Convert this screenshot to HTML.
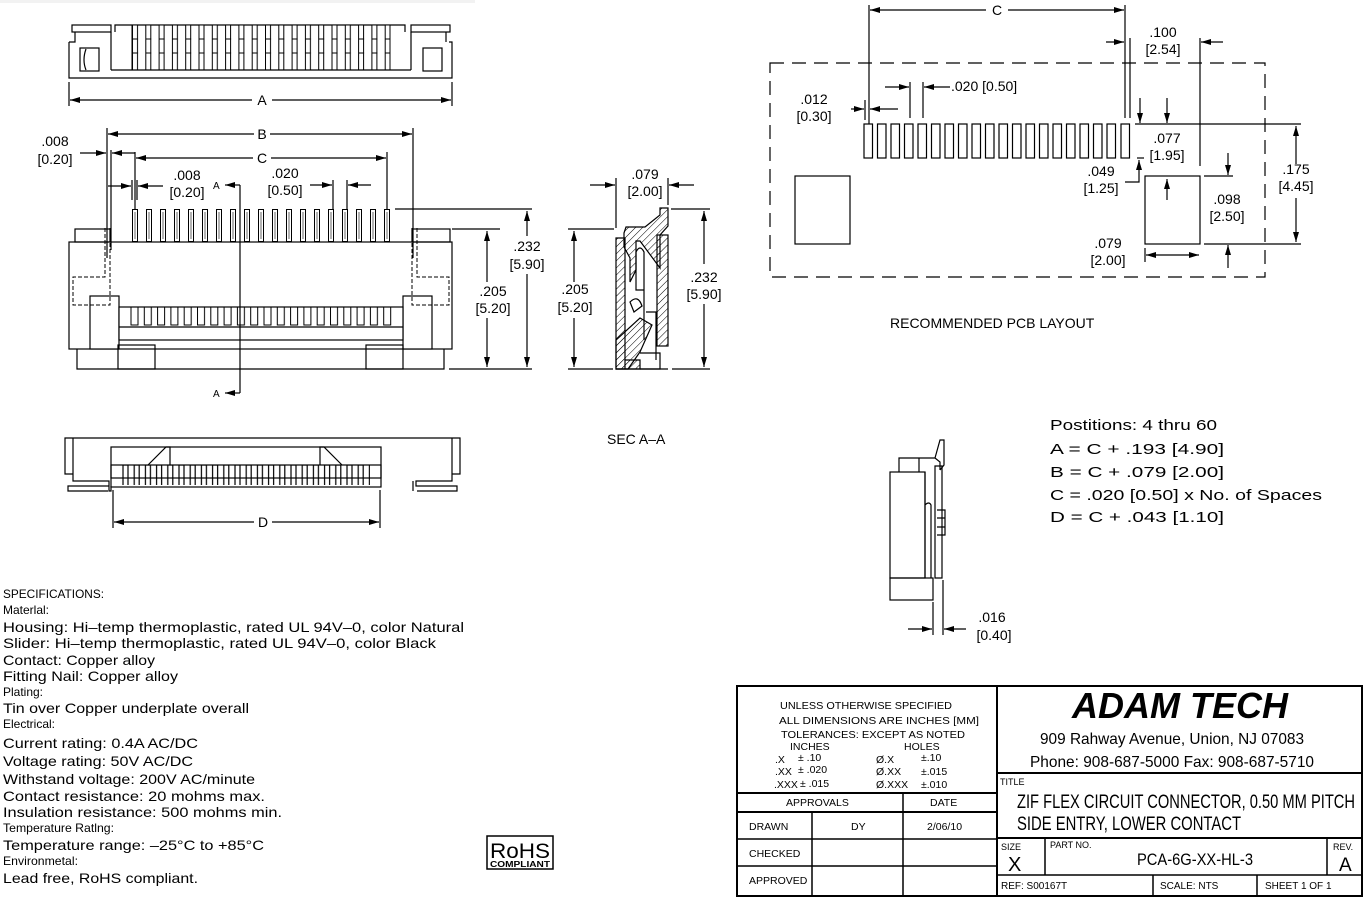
<!DOCTYPE html>
<html><head><meta charset="utf-8"><style>
body{margin:0;background:#fff}
svg{display:block}
text{font-family:"Liberation Sans",sans-serif;fill:#000}
.s{stroke:#000;stroke-width:1.2;fill:none}
.f{stroke:#000;stroke-width:1.2;fill:#fff}
.t{font-size:14px}
.sm{font-size:12px}
</style></head><body>
<svg width="1368" height="900" viewBox="0 0 1368 900" xmlns="http://www.w3.org/2000/svg">
<defs>
<marker id="ar" viewBox="0 0 10 6" refX="10" refY="3" markerWidth="10" markerHeight="6" orient="auto-start-reverse" markerUnits="userSpaceOnUse"><path d="M0,0L10,3L0,6z" fill="#000"/></marker>
<pattern id="pinsTop" x="132" y="25" width="13.3" height="45" patternUnits="userSpaceOnUse"><rect x="0.5" y="0" width="5" height="45" fill="#fff" stroke="#000" stroke-width="1"/><line x1="0" y1="14" x2="6" y2="14" stroke="#000"/><line x1="0" y1="28" x2="6" y2="28" stroke="#000"/></pattern>
<pattern id="pins" x="132" y="209" width="14" height="40" patternUnits="userSpaceOnUse"><rect x="0.5" y="0.5" width="5" height="32" fill="#fff" stroke="#000" stroke-width="1"/><line x1="3" y1="3" x2="3" y2="30" stroke="#000" stroke-width="0.6"/></pattern>
<pattern id="teeth" x="130" y="307" width="13.3" height="40" patternUnits="userSpaceOnUse"><path d="M1,0V18H8V0" fill="none" stroke="#000" stroke-width="1"/></pattern>
<pattern id="bteeth" x="122" y="465" width="11.2" height="40" patternUnits="userSpaceOnUse"><rect x="1" y="0" width="5" height="40" fill="none" stroke="#000" stroke-width="1.2"/></pattern>
<pattern id="hatch" width="5" height="5" patternUnits="userSpaceOnUse" patternTransform="rotate(45)"><line x1="0" y1="0" x2="0" y2="5" stroke="#000" stroke-width="1"/></pattern>
</defs>

<!-- TOP VIEW -->
<rect x="0" y="0" width="475" height="3" fill="#f2f2f2"/>
<rect class="f" x="72" y="25" width="39" height="7"/>
<rect class="f" x="411" y="25" width="39" height="7"/>
<path class="s" d="M69,42V78H452V42H449M69,42H75V32M111,32V70M115,32V25H405V32M411,32V70M446,32V42"/>
<rect class="f" x="80" y="48" width="19" height="23"/>
<path class="s" d="M86,49q-4,11 0,21M436,49q4,11 0,21"/>
<rect class="f" x="423" y="48" width="19" height="23"/>
<rect x="132" y="25" width="258" height="45" fill="url(#pinsTop)" stroke="#000" stroke-width="1"/>
<line class="s" x1="111" y1="70" x2="411" y2="70"/>
<line class="s" x1="69" y1="82" x2="69" y2="106"/><line class="s" x1="452" y1="82" x2="452" y2="106"/>
<line class="s" x1="70" y1="100" x2="252" y2="100" marker-start="url(#ar)"/>
<line class="s" x1="272" y1="100" x2="451" y2="100" marker-end="url(#ar)"/>
<text class="t" x="262" y="105" text-anchor="middle">A</text>

<!-- FRONT VIEW -->
<rect class="f" x="75" y="229" width="35" height="13"/>
<rect class="f" x="412" y="229" width="38" height="13"/>
<rect x="132" y="209" width="260" height="33" fill="url(#pins)"/>
<rect class="s" x="69" y="242" width="383" height="107"/>
<path class="s" d="M77,349V369H444V349"/>
<rect class="f" x="90" y="296" width="29" height="53"/>
<rect class="f" x="403" y="296" width="29" height="53"/>
<rect class="f" x="119" y="307" width="284" height="33"/>
<rect x="130" y="307" width="263" height="20" fill="url(#teeth)"/>
<line class="s" x1="119" y1="327" x2="403" y2="327"/>
<rect class="s" x="118" y="345" width="37" height="24"/>
<rect class="s" x="366" y="345" width="37" height="24"/>
<path d="M105,228V277H73V305H110V228M417,228V277H449V305H412V228" fill="none" stroke="#000" stroke-width="1" stroke-dasharray="4,2"/>
<line class="s" x1="240" y1="185" x2="240" y2="393"/>
<line class="s" x1="240" y1="185" x2="225" y2="185" marker-end="url(#ar)"/>
<line class="s" x1="240" y1="393" x2="225" y2="393" marker-end="url(#ar)"/>
<text x="213" y="189" font-size="10">A</text>
<text x="213" y="397" font-size="10">A</text>
<line class="s" x1="107" y1="128" x2="107" y2="258"/><line class="s" x1="111" y1="150" x2="111" y2="250"/>
<line class="s" x1="413" y1="128" x2="413" y2="258"/>
<line class="s" x1="108" y1="134" x2="254" y2="134" marker-start="url(#ar)"/>
<line class="s" x1="270" y1="134" x2="412" y2="134" marker-end="url(#ar)"/>
<text class="t" x="262" y="139" text-anchor="middle">B</text>
<line class="s" x1="135" y1="152" x2="135" y2="209"/><line class="s" x1="387" y1="152" x2="387" y2="209"/>
<line class="s" x1="136" y1="158" x2="253" y2="158" marker-start="url(#ar)"/>
<line class="s" x1="271" y1="158" x2="386" y2="158" marker-end="url(#ar)"/>
<text class="t" x="262" y="163" text-anchor="middle">C</text>
<line class="s" x1="80" y1="153" x2="106" y2="153" marker-end="url(#ar)"/>
<line class="s" x1="135" y1="153" x2="112" y2="153" marker-end="url(#ar)"/>
<text class="t" x="55" y="146" text-anchor="middle">.008</text><text class="t" x="55" y="164" text-anchor="middle">[0.20]</text>
<line class="s" x1="132" y1="180" x2="132" y2="200"/><line class="s" x1="137" y1="180" x2="137" y2="200"/>
<line class="s" x1="108" y1="186" x2="131" y2="186" marker-end="url(#ar)"/>
<line class="s" x1="163" y1="186" x2="138" y2="186" marker-end="url(#ar)"/>
<text class="t" x="187" y="180" text-anchor="middle">.008</text><text class="t" x="187" y="197" text-anchor="middle">[0.20]</text>
<line class="s" x1="333" y1="180" x2="333" y2="209"/><line class="s" x1="347" y1="180" x2="347" y2="209"/>
<line class="s" x1="310" y1="185" x2="332" y2="185" marker-end="url(#ar)"/>
<line class="s" x1="371" y1="185" x2="348" y2="185" marker-end="url(#ar)"/>
<text class="t" x="285" y="178" text-anchor="middle">.020</text><text class="t" x="285" y="195" text-anchor="middle">[0.50]</text>
<line class="s" x1="395" y1="209" x2="532" y2="209"/>
<line class="s" x1="452" y1="229" x2="500" y2="229"/>
<line class="s" x1="449" y1="369" x2="532" y2="369"/>
<line class="s" x1="487" y1="231" x2="487" y2="282" marker-start="url(#ar)"/>
<line class="s" x1="487" y1="318" x2="487" y2="367" marker-end="url(#ar)"/>
<text class="t" x="493" y="296" text-anchor="middle">.205</text><text class="t" x="493" y="313" text-anchor="middle">[5.20]</text>
<line class="s" x1="527" y1="211" x2="527" y2="236" marker-start="url(#ar)"/>
<line class="s" x1="527" y1="274" x2="527" y2="367" marker-end="url(#ar)"/>
<text class="t" x="527" y="251" text-anchor="middle">.232</text><text class="t" x="527" y="269" text-anchor="middle">[5.90]</text>

<!-- SECTION A-A -->
<path d="M616,369V238H625V360H640L640,369Z" fill="url(#hatch)" stroke="#000" stroke-width="1.2"/>
<path d="M624,233L626,227H645L660,215V208H668V226L660,235V268L640,241H636V270L630,282V258L624,247Z" fill="url(#hatch)" stroke="#000" stroke-width="1.2"/>
<rect x="657" y="235" width="11" height="111" fill="url(#hatch)" stroke="#000" stroke-width="1.2"/>
<path d="M616,340L640,318L652,325L640,352L628,369H616Z" fill="url(#hatch)" stroke="#000" stroke-width="1.2"/>
<path class="s" d="M636,252q4,-8 8,0V290H636ZM644,290V340M646,312H656V360M630,302q8,-8 12,4l-8,6ZM640,353H660V369H640M625,360V369"/>
<line class="s" x1="616" y1="369" x2="668" y2="369"/>
<line class="s" x1="616" y1="178" x2="616" y2="228"/>
<line class="s" x1="668" y1="178" x2="668" y2="205"/>
<line class="s" x1="590" y1="185" x2="615" y2="185" marker-end="url(#ar)"/>
<line class="s" x1="694" y1="185" x2="669" y2="185" marker-end="url(#ar)"/>
<text class="t" x="645" y="179" text-anchor="middle">.079</text><text class="t" x="645" y="196" text-anchor="middle">[2.00]</text>
<line class="s" x1="568" y1="229" x2="614" y2="229"/>
<line class="s" x1="568" y1="369" x2="613" y2="369"/>
<line class="s" x1="671" y1="209" x2="710" y2="209"/>
<line class="s" x1="672" y1="369" x2="710" y2="369"/>
<line class="s" x1="574" y1="231" x2="574" y2="282" marker-start="url(#ar)"/>
<line class="s" x1="574" y1="318" x2="574" y2="367" marker-end="url(#ar)"/>
<text class="t" x="575" y="294" text-anchor="middle">.205</text><text class="t" x="575" y="312" text-anchor="middle">[5.20]</text>
<line class="s" x1="704" y1="211" x2="704" y2="264" marker-start="url(#ar)"/>
<line class="s" x1="704" y1="304" x2="704" y2="367" marker-end="url(#ar)"/>
<text class="t" x="704" y="282" text-anchor="middle">.232</text><text class="t" x="704" y="299" text-anchor="middle">[5.90]</text>
<text class="t" x="607" y="444">SEC A–A</text>

<!-- BOTTOM VIEW -->
<path class="s" d="M65,438V474H73V438ZM452,438V474H460V438ZM73,438H452M73,474V481H109V486H68V491H108M452,474V481H416V486H457V491H417M109,481V491H111V486M413,481V491"/>
<rect class="f" x="111" y="447" width="270" height="40"/>
<rect class="s" x="111" y="465" width="270" height="13"/>
<rect x="122" y="465" width="248" height="20" fill="url(#bteeth)"/>
<path class="s" d="M148,465L166,447H170V465M342,465L324,447H320V465"/>
<line class="s" x1="113" y1="490" x2="113" y2="528"/><line class="s" x1="380" y1="490" x2="380" y2="528"/>
<line class="s" x1="114" y1="522" x2="254" y2="522" marker-start="url(#ar)"/>
<line class="s" x1="272" y1="522" x2="379" y2="522" marker-end="url(#ar)"/>
<text class="t" x="263" y="527" text-anchor="middle">D</text>

<!-- PCB LAYOUT -->
<rect x="770" y="63" width="495" height="214" fill="none" stroke="#000" stroke-width="1.2" stroke-dasharray="14,8"/>
<g class="f">
<rect x="864" y="124" width="8.5" height="34"/><rect x="877.5" y="124" width="8.5" height="34"/><rect x="891" y="124" width="8.5" height="34"/><rect x="904.5" y="124" width="8.5" height="34"/><rect x="918" y="124" width="8.5" height="34"/>
<rect x="931.5" y="124" width="8.5" height="34"/><rect x="945" y="124" width="8.5" height="34"/><rect x="958.5" y="124" width="8.5" height="34"/><rect x="972" y="124" width="8.5" height="34"/><rect x="985.5" y="124" width="8.5" height="34"/>
<rect x="999" y="124" width="8.5" height="34"/><rect x="1012.5" y="124" width="8.5" height="34"/><rect x="1026" y="124" width="8.5" height="34"/><rect x="1039.5" y="124" width="8.5" height="34"/><rect x="1053" y="124" width="8.5" height="34"/>
<rect x="1066.5" y="124" width="8.5" height="34"/><rect x="1080" y="124" width="8.5" height="34"/><rect x="1093.5" y="124" width="8.5" height="34"/><rect x="1107" y="124" width="8.5" height="34"/><rect x="1121" y="124" width="8.5" height="34"/>
</g>
<rect class="f" x="795" y="176" width="55" height="68"/>
<rect class="f" x="1145" y="176" width="55" height="68"/>
<line class="s" x1="869" y1="5" x2="869" y2="124"/><line class="s" x1="1125" y1="5" x2="1125" y2="118"/><line class="s" x1="1130" y1="38" x2="1130" y2="118"/>
<line class="s" x1="870" y1="10" x2="986" y2="10" marker-start="url(#ar)"/>
<line class="s" x1="1008" y1="10" x2="1124" y2="10" marker-end="url(#ar)"/>
<text class="t" x="997" y="15" text-anchor="middle">C</text>
<line class="s" x1="1200" y1="38" x2="1200" y2="166"/>
<line class="s" x1="1106" y1="42" x2="1124" y2="42" marker-end="url(#ar)"/>
<line class="s" x1="1223" y1="42" x2="1201" y2="42" marker-end="url(#ar)"/>
<text class="t" x="1163" y="37" text-anchor="middle">.100</text><text class="t" x="1163" y="54" text-anchor="middle">[2.54]</text>
<line class="s" x1="910" y1="82" x2="910" y2="118"/><line class="s" x1="923" y1="82" x2="923" y2="118"/>
<line class="s" x1="885" y1="87" x2="909" y2="87" marker-end="url(#ar)"/>
<line class="s" x1="950" y1="87" x2="924" y2="87" marker-end="url(#ar)"/>
<text class="t" x="951" y="91">.020  [0.50]</text>
<line class="s" x1="851" y1="109" x2="864" y2="109" marker-end="url(#ar)"/>
<line class="s" x1="898" y1="109" x2="870" y2="109" marker-end="url(#ar)"/>
<line class="s" x1="865" y1="100" x2="865" y2="120"/>
<text class="t" x="814" y="104" text-anchor="middle">.012</text><text class="t" x="814" y="121" text-anchor="middle">[0.30]</text>
<line class="s" x1="1135" y1="124" x2="1301" y2="124"/>
<line class="s" x1="1140" y1="98" x2="1140" y2="123" marker-end="url(#ar)"/>
<line class="s" x1="1167" y1="98" x2="1167" y2="123" marker-end="url(#ar)"/>
<text class="t" x="1167" y="143" text-anchor="middle">.077</text><text class="t" x="1167" y="160" text-anchor="middle">[1.95]</text>
<line class="s" x1="1137" y1="158" x2="1144" y2="158"/>
<path class="s" d="M1125,182H1139V160" marker-end="url(#ar)"/>
<text class="t" x="1101" y="176" text-anchor="middle">.049</text><text class="t" x="1101" y="193" text-anchor="middle">[1.25]</text>
<line class="s" x1="1167" y1="200" x2="1167" y2="179" marker-end="url(#ar)"/>
<line class="s" x1="1204" y1="176" x2="1233" y2="176"/>
<line class="s" x1="1204" y1="244" x2="1301" y2="244"/>
<line class="s" x1="1228" y1="153" x2="1228" y2="175" marker-end="url(#ar)"/>
<line class="s" x1="1228" y1="268" x2="1228" y2="245" marker-end="url(#ar)"/>
<text class="t" x="1227" y="204" text-anchor="middle">.098</text><text class="t" x="1227" y="221" text-anchor="middle">[2.50]</text>
<line class="s" x1="1296" y1="126" x2="1296" y2="164" marker-start="url(#ar)"/>
<line class="s" x1="1296" y1="198" x2="1296" y2="242" marker-end="url(#ar)"/>
<text class="t" x="1296" y="174" text-anchor="middle">.175</text><text class="t" x="1296" y="191" text-anchor="middle">[4.45]</text>
<line class="s" x1="1145" y1="248" x2="1145" y2="262"/>
<line class="s" x1="1172" y1="255" x2="1146" y2="255" marker-end="url(#ar)"/>
<line class="s" x1="1172" y1="255" x2="1199" y2="255" marker-end="url(#ar)"/>
<text class="t" x="1108" y="248" text-anchor="middle">.079</text><text class="t" x="1108" y="265" text-anchor="middle">[2.00]</text>
<text class="t" x="890" y="328">RECOMMENDED  PCB  LAYOUT</text>

<!-- SMALL SIDE VIEW -->
<path class="s" d="M899,472V458H919V472M919,458H935L940,462V470M935,458L940,440L944,440V465L940,470"/>
<rect class="s" x="890" y="472" width="35" height="106"/>
<rect class="s" x="890" y="578" width="43" height="22"/>
<path class="s" d="M925,472V578M925,505q4,-4 6,0V578M935,466V578H942V466ZM937,510H945V535H937M937,518H945M937,527H945"/>
<line class="s" x1="933" y1="602" x2="933" y2="635"/><line class="s" x1="943" y1="580" x2="943" y2="635"/>
<line class="s" x1="908" y1="629" x2="932" y2="629" marker-end="url(#ar)"/>
<line class="s" x1="966" y1="629" x2="944" y2="629" marker-end="url(#ar)"/>
<text class="t" x="992" y="622" text-anchor="middle">.016</text><text class="t" x="994" y="640" text-anchor="middle">[0.40]</text>

<g font-size="15">
<text x="1050" y="430" textLength="167" lengthAdjust="spacingAndGlyphs">Postitions:  4  thru  60</text>
<text x="1050" y="454" textLength="174" lengthAdjust="spacingAndGlyphs">A  =  C  +  .193  [4.90]</text>
<text x="1050" y="477" textLength="174" lengthAdjust="spacingAndGlyphs">B  =  C  +  .079  [2.00]</text>
<text x="1050" y="500" textLength="272" lengthAdjust="spacingAndGlyphs">C  =  .020  [0.50]  x  No.  of  Spaces</text>
<text x="1050" y="522" textLength="174" lengthAdjust="spacingAndGlyphs">D  =  C  +  .043  [1.10]</text>
</g>

<!-- SPECS -->
<g>
<text class="sm" x="3" y="598" textLength="101" lengthAdjust="spacingAndGlyphs">SPECIFICATIONS:</text>
<text class="sm" x="3" y="614" textLength="46" lengthAdjust="spacingAndGlyphs">Materlal:</text>
<text class="t" x="3" y="632" textLength="461" lengthAdjust="spacingAndGlyphs">Housing:  Hi–temp  thermoplastic,  rated  UL  94V–0,  color  Natural</text>
<text class="t" x="3" y="648" textLength="433" lengthAdjust="spacingAndGlyphs">Slider:  Hi–temp  thermoplastic,  rated  UL  94V–0,  color  Black</text>
<text class="t" x="3" y="665" textLength="152" lengthAdjust="spacingAndGlyphs">Contact:  Copper  alloy</text>
<text class="t" x="3" y="681" textLength="175" lengthAdjust="spacingAndGlyphs">Fitting  Nail:  Copper  alloy</text>
<text class="sm" x="3" y="696" textLength="40" lengthAdjust="spacingAndGlyphs">Plating:</text>
<text class="t" x="3" y="713" textLength="246" lengthAdjust="spacingAndGlyphs">Tin  over  Copper  underplate  overall</text>
<text class="sm" x="3" y="728" textLength="52" lengthAdjust="spacingAndGlyphs">Electrical:</text>
<text class="t" x="3" y="748" textLength="195" lengthAdjust="spacingAndGlyphs">Current  rating:  0.4A  AC/DC</text>
<text class="t" x="3" y="766" textLength="190" lengthAdjust="spacingAndGlyphs">Voltage  rating:  50V  AC/DC</text>
<text class="t" x="3" y="784" textLength="252" lengthAdjust="spacingAndGlyphs">Withstand  voltage:  200V  AC/minute</text>
<text class="t" x="3" y="801" textLength="262" lengthAdjust="spacingAndGlyphs">Contact  resistance:  20  mohms  max.</text>
<text class="t" x="3" y="817" textLength="279" lengthAdjust="spacingAndGlyphs">Insulation  resistance:  500  mohms  min.</text>
<text class="sm" x="3" y="832" textLength="111" lengthAdjust="spacingAndGlyphs">Temperature Ratlng:</text>
<text class="t" x="3" y="850" textLength="261" lengthAdjust="spacingAndGlyphs">Temperature  range:  –25°C  to  +85°C</text>
<text class="sm" x="3" y="865" textLength="75" lengthAdjust="spacingAndGlyphs">Environmetal:</text>
<text class="t" x="3" y="883" textLength="195" lengthAdjust="spacingAndGlyphs">Lead  free,  RoHS  compliant.</text>
</g>
<rect x="487" y="836" width="66" height="33" fill="none" stroke="#000" stroke-width="1.5"/>
<text x="490" y="858" font-size="21" textLength="60" lengthAdjust="spacingAndGlyphs">RoHS</text>
<text x="490" y="867" font-size="8" font-weight="bold" textLength="60" lengthAdjust="spacingAndGlyphs">COMPLIANT</text>

<!-- TITLE BLOCK -->
<g stroke="#000" fill="none">
<rect x="737" y="686" width="625" height="210" stroke-width="2"/>
<line x1="997" y1="686" x2="997" y2="896" stroke-width="2"/>
<line x1="737" y1="793" x2="997" y2="793" stroke-width="2"/>
<line x1="737" y1="812" x2="997" y2="812" stroke-width="2"/>
<line x1="737" y1="839" x2="997" y2="839" stroke-width="1.5"/>
<line x1="737" y1="866" x2="997" y2="866" stroke-width="1.5"/>
<line x1="903" y1="793" x2="903" y2="896" stroke-width="1.5"/>
<line x1="812" y1="812" x2="812" y2="896" stroke-width="1.5"/>
<line x1="997" y1="773" x2="1362" y2="773" stroke-width="2"/>
<line x1="997" y1="838" x2="1362" y2="838" stroke-width="2"/>
<line x1="997" y1="875" x2="1362" y2="875" stroke-width="1.5"/>
<line x1="1045" y1="838" x2="1045" y2="875" stroke-width="1.5"/>
<line x1="1327" y1="838" x2="1327" y2="875" stroke-width="1.5"/>
<line x1="1153" y1="875" x2="1153" y2="896" stroke-width="1.5"/>
<line x1="1257" y1="875" x2="1257" y2="896" stroke-width="1.5"/>
</g>
<g font-size="10.5">
<text x="780" y="709" textLength="172" lengthAdjust="spacingAndGlyphs">UNLESS  OTHERWISE  SPECIFIED</text>
<text x="779" y="724" textLength="200" lengthAdjust="spacingAndGlyphs">ALL  DIMENSIONS  ARE  INCHES  [MM]</text>
<text x="781" y="738" textLength="184" lengthAdjust="spacingAndGlyphs">TOLERANCES:  EXCEPT  AS  NOTED</text>
<text x="790" y="750">INCHES</text><text x="904" y="750">HOLES</text>
<text x="775" y="763">.X</text><text x="798" y="761">±  .10</text><text x="876" y="763">Ø.X</text><text x="921" y="761">±.10</text>
<text x="775" y="775">.XX</text><text x="798" y="773">±  .020</text><text x="876" y="775">Ø.XX</text><text x="921" y="775">±.015</text>
<text x="774" y="788">.XXX</text><text x="800" y="787">±  .015</text><text x="876" y="788">Ø.XXX</text><text x="921" y="788">±.010</text>
<text x="786" y="806">APPROVALS</text><text x="930" y="806">DATE</text>
<text x="749" y="830">DRAWN</text><text x="851" y="830">DY</text><text x="927" y="830">2/06/10</text>
<text x="749" y="857">CHECKED</text>
<text x="749" y="884">APPROVED</text>
<text x="1000" y="785" font-size="9">TITLE</text>
<text x="1001" y="850" font-size="9">SIZE</text>
<text x="1050" y="848" font-size="9">PART  NO.</text>
<text x="1333" y="850" font-size="9">REV.</text>
<text x="1001" y="889" font-size="10">REF:   S00167T</text>
<text x="1160" y="889" font-size="10">SCALE:   NTS</text>
<text x="1265" y="889" font-size="10">SHEET   1   OF   1</text>
</g>
<text x="1180" y="718" font-size="36" font-weight="bold" font-style="italic" text-anchor="middle" textLength="216" lengthAdjust="spacingAndGlyphs">ADAM TECH</text>
<text x="1172" y="744" font-size="16" text-anchor="middle" textLength="264" lengthAdjust="spacingAndGlyphs">909 Rahway Avenue, Union, NJ 07083</text>
<text x="1172" y="767" font-size="16" text-anchor="middle" textLength="284" lengthAdjust="spacingAndGlyphs">Phone: 908-687-5000 Fax: 908-687-5710</text>
<text x="1017" y="808" font-size="19" textLength="338" lengthAdjust="spacingAndGlyphs">ZIF FLEX CIRCUIT CONNECTOR, 0.50 MM PITCH</text>
<text x="1017" y="830" font-size="19" textLength="224" lengthAdjust="spacingAndGlyphs">SIDE ENTRY, LOWER CONTACT</text>
<text x="1008" y="871" font-size="20">X</text>
<text x="1195" y="865" font-size="17" text-anchor="middle" textLength="116" lengthAdjust="spacingAndGlyphs">PCA-6G-XX-HL-3</text>
<text x="1339" y="871" font-size="19">A</text>
</svg>
</body></html>
